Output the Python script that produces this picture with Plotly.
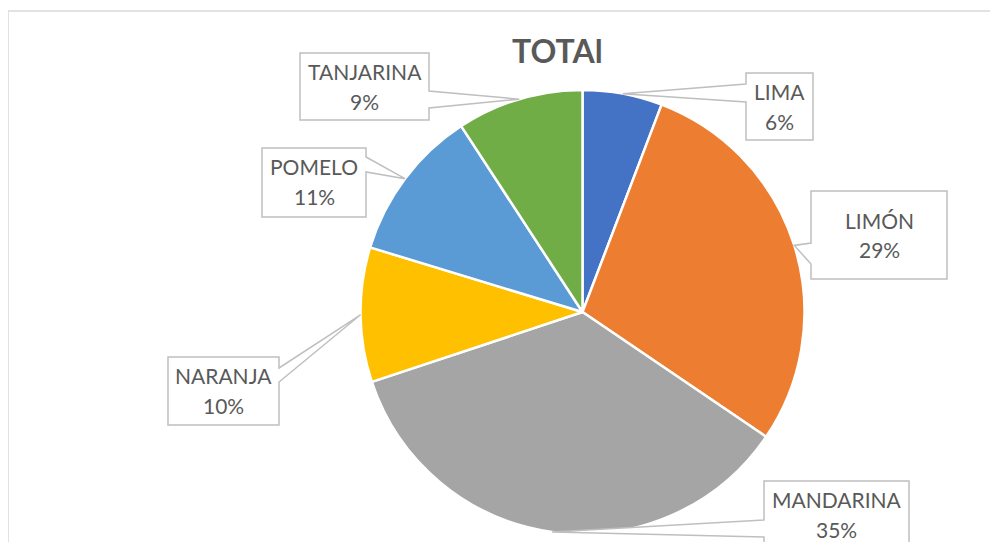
import math
import plotly.graph_objects as go

# ---- data ----
categories = ["LIMA", "LIMÓN", "MANDARINA", "NARANJA", "POMELO", "TANJARINA"]
values = [5.8, 28.7, 35.4, 9.8, 11.1, 9.2]
colors = ["#4472C4", "#ED7D31", "#A5A5A5", "#FFC000", "#5B9BD5", "#70AD47"]
title_text = "TOTAl"

W, H = 998, 542
OFF = 8  # page body margin
# pie placement in pixels
CX, CY, R = 582.5, 312.0, 222.0

def px(x):
    return (x - OFF) / W

def py(y):
    return 1 - (y - OFF) / H

fig = go.Figure(go.Pie(
    labels=categories,
    values=values,
    sort=False,
    direction="clockwise",
    rotation=0,
    marker=dict(colors=colors, line=dict(color="white", width=2.5)),
    textinfo="none",
    hoverinfo="label+percent",
    showlegend=False,
    domain=dict(x=[px(CX - R), px(CX + R)], y=[py(CY + R), py(CY - R)]),
))

# callout boxes: (x0, y0, x1, y1), side of wedge, wedge base span
boxes = {
    "TANJARINA": ((300, 53, 429, 120), "right", (91, 108)),
    "LIMA": ((746, 73, 813, 140), "left", (84, 102)),
    "LIMÓN": ((811, 191, 947, 279), "left", (243, 264)),
    "POMELO": ((262, 148, 366, 217), "right", (157, 172)),
    "NARANJA": ((168, 357, 279, 425), "right", (368, 382)),
    "MANDARINA": ((764, 481, 909, 575), "left", (520, 537)),
}

total = sum(values)
cum = 0.0
shapes = []
annotations = []
for cat, v in zip(categories, values):
    mid = (cum + v / 2) / total * 2 * math.pi
    cum += v
    tx = CX + R * math.sin(mid)
    ty = CY - R * math.cos(mid)
    (x0, y0, x1, y1), side, (b0, b1) = boxes[cat]
    if side == "right":
        pts = [(x0, y0), (x1, y0), (x1, b0), (tx, ty), (x1, b1), (x1, y1), (x0, y1)]
    else:
        pts = [(x0, y0), (x1, y0), (x1, y1), (x0, y1), (x0, b1), (tx, ty), (x0, b0)]
    path = "M " + " L ".join(f"{px(a):.5f},{py(b):.5f}" for a, b in pts) + " Z"
    shapes.append(dict(type="path", xref="paper", yref="paper", path=path,
                       fillcolor="white", line=dict(color="#BFBFBF", width=1.5)))
    pct = round(v / total * 100)
    xc = (x0 + x1) / 2
    yc = (y0 + min(y1, y0 + 67)) / 2 if cat != "LIMÓN" else (y0 + y1) / 2
    for txt, dy in ((cat, -15), (f"{pct}%", 15)):
        annotations.append(dict(x=px(xc), y=py(yc + dy), xref="paper", yref="paper",
                                text=txt, showarrow=False, xanchor="center", yanchor="middle",
                                font=dict(family="Lato", size=21, color="#595959")))

# outer chart frame
shapes.insert(0, dict(type="rect", xref="paper", yref="paper",
                      x0=px(8), y0=py(11), x1=px(1020), y1=py(570),
                      line=dict(color="#D9D9D9", width=1.5), fillcolor="rgba(0,0,0,0)",
                      layer="below"))

annotations.append(dict(x=px(557), y=py(50), xref="paper", yref="paper", text=f"<b>{title_text}</b>",
                        showarrow=False, xanchor="center", yanchor="middle",
                        font=dict(family="Lato", size=32, color="#595959")))

fig.update_layout(
    width=W, height=H,
    margin=dict(l=0, r=0, t=0, b=0),
    paper_bgcolor="white",
    plot_bgcolor="white",
    shapes=shapes,
    annotations=annotations,
)

fig.write_html("out.html")
